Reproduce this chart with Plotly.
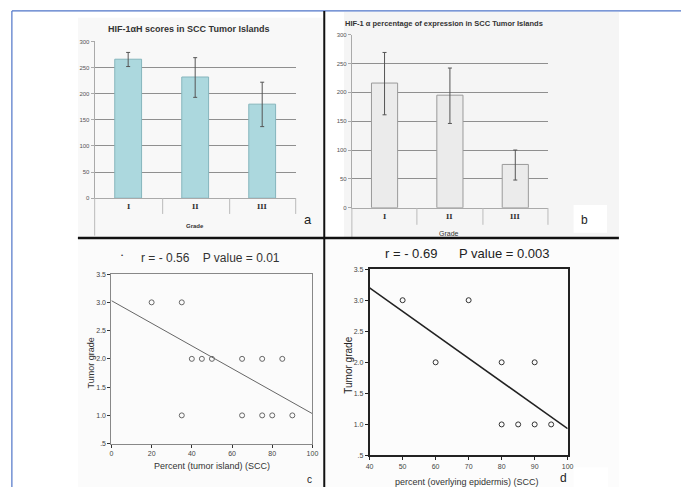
import plotly.graph_objects as go

W, H = 687, 490

# ---------------- data ----------------
grades = ["I", "II", "III"]
a_scores = [266, 232, 180]
a_err_up = [13, 37, 42]
a_err_dn = [14, 39, 43]

b_pct = [216, 195, 75]
b_err_up = [53, 47, 25]
b_err_dn = [55, 49, 27]

bar_ticks = [0, 50, 100, 150, 200, 250, 300]

c_x = [20, 35, 40, 45, 50, 65, 75, 85, 35, 65, 75, 80, 90]
c_y = [3, 3, 2, 2, 2, 2, 2, 2, 1, 1, 1, 1, 1]
c_fit_x = [0, 100]
c_fit_y = [3.03, 1.03]

d_x = [50, 70, 60, 80, 90, 80, 85, 90, 95]
d_y = [3, 3, 2, 2, 2, 1, 1, 1, 1]
d_fit_x = [40, 100]
d_fit_y = [3.2, 0.93]

grade_ticks = [0.5, 1.0, 1.5, 2.0, 2.5, 3.0, 3.5]
grade_ticktext = [".5", "1.0", "1.5", "2.0", "2.5", "3.0", "3.5"]
c_xticks = [0, 20, 40, 60, 80, 100]
d_xticks = [40, 50, 60, 70, 80, 90, 100]


def px(x):
    return x / W


def py(y):
    return (H - y) / H


FONT = "Liberation Sans, Arial, sans-serif"
NARROW = "Liberation Sans Narrow, Liberation Sans, Arial, sans-serif"

fig = go.Figure()

# Panel a bars
fig.add_trace(go.Bar(
    x=[0, 1, 2], y=a_scores, width=0.4,
    marker=dict(color="#acd8de", line=dict(color="#86b6bd", width=1)),
    error_y=dict(type="data", array=a_err_up, arrayminus=a_err_dn,
                 color="#555", thickness=1, width=2),
    xaxis="x", yaxis="y", showlegend=False))

# Panel b bars
fig.add_trace(go.Bar(
    x=[0, 1, 2], y=b_pct, width=0.4,
    marker=dict(color="#ebebeb", line=dict(color="#9a9a9a", width=1)),
    error_y=dict(type="data", array=b_err_up, arrayminus=b_err_dn,
                 color="#555", thickness=1, width=2),
    xaxis="x2", yaxis="y2", showlegend=False))

# Panel c scatter
fig.add_trace(go.Scatter(
    x=c_x, y=c_y, mode="markers",
    marker=dict(symbol="circle-open", size=5, color="#666", line=dict(width=1)),
    xaxis="x3", yaxis="y3", showlegend=False))
fig.add_trace(go.Scatter(
    x=c_fit_x, y=c_fit_y, mode="lines", line=dict(color="#666", width=1),
    xaxis="x3", yaxis="y3", showlegend=False))

# Panel d scatter
fig.add_trace(go.Scatter(
    x=d_x, y=d_y, mode="markers",
    marker=dict(symbol="circle-open", size=5, color="#333", line=dict(width=1)),
    xaxis="x4", yaxis="y4", showlegend=False))
fig.add_trace(go.Scatter(
    x=d_fit_x, y=d_fit_y, mode="lines", line=dict(color="#222", width=1.5),
    xaxis="x4", yaxis="y4", showlegend=False))

small_tick = dict(family=NARROW, size=6, color="#555")
tick_font = dict(family=NARROW, size=7, color="#444")

bar_x = dict(range=[-0.5, 2.5], showticklabels=False, showgrid=False,
             zeroline=False, showline=True, linecolor="#aaa", linewidth=1,
             fixedrange=True)
bar_y = dict(range=[0, 300], tickvals=bar_ticks, showgrid=True,
             gridcolor="#8f8f8f", gridwidth=1, zeroline=False,
             showline=True, linecolor="#aaa", tickfont=small_tick,
             ticks="outside", ticklen=3, tickcolor="#aaa")

fig.update_layout(
    width=W, height=H, margin=dict(l=0, r=0, t=0, b=0),
    paper_bgcolor="white", plot_bgcolor="rgba(0,0,0,0)",
    xaxis=dict(domain=[px(92), px(296)], anchor="y", **bar_x),
    yaxis=dict(domain=[py(197), py(38)], anchor="x", **bar_y),
    xaxis2=dict(domain=[px(353), px(552)], anchor="y2", **bar_x),
    yaxis2=dict(domain=[py(206.7), py(31)], anchor="x2", **bar_y),
    xaxis3=dict(domain=[px(109), px(313)], anchor="y3", range=[0, 100],
                tickvals=c_xticks, showgrid=False, zeroline=False,
                showline=True, mirror=True, linecolor="#888", linewidth=1,
                ticks="outside", ticklen=3, tickcolor="#333", tickfont=tick_font),
    yaxis3=dict(domain=[py(446), py(274)], anchor="x3", range=[0.5, 3.5],
                tickvals=grade_ticks, ticktext=grade_ticktext, showgrid=False,
                zeroline=False, showline=True, mirror=True, linecolor="#888",
                linewidth=1, ticks="outside", ticklen=3, tickcolor="#333",
                tickfont=tick_font),
    xaxis4=dict(domain=[px(371), px(572)], anchor="y4", range=[40, 100],
                tickvals=d_xticks, showgrid=False, zeroline=False,
                showline=True, mirror=True, linecolor="#222", linewidth=1.5,
                ticks="outside", ticklen=3, tickcolor="#222", tickfont=tick_font),
    yaxis4=dict(domain=[py(458), py(269)], anchor="x4", range=[0.5, 3.5],
                tickvals=grade_ticks, ticktext=grade_ticktext, showgrid=False,
                zeroline=False, showline=True, mirror=True, linecolor="#222",
                linewidth=1.5, ticks="outside", ticklen=3, tickcolor="#222",
                tickfont=tick_font),
)

shapes = []
# panel backgrounds
shapes.append(dict(type="rect", xref="paper", yref="paper", layer="below",
                   x0=px(75), x1=px(325), y0=py(237), y1=py(14),
                   fillcolor="#f8f8f8", line=dict(width=0)))
shapes.append(dict(type="rect", xref="paper", yref="paper", layer="below",
                   x0=px(345), x1=px(624), y0=py(237), y1=py(8),
                   fillcolor="#f5f5f5", line=dict(width=0)))
shapes.append(dict(type="rect", xref="paper", yref="paper", layer="below",
                   x0=px(75), x1=px(325), y0=py(490), y1=py(237),
                   fillcolor="#fbfbfb", line=dict(width=0)))
shapes.append(dict(type="rect", xref="paper", yref="paper", layer="below",
                   x0=px(325), x1=px(624), y0=py(490), y1=py(237),
                   fillcolor="#fcfcfc", line=dict(width=0)))
# white label boxes for b and d
shapes.append(dict(type="rect", xref="paper", yref="paper", layer="below",
                   x0=px(578), x1=px(612), y0=py(232), y1=py(204),
                   fillcolor="white", line=dict(width=0)))
shapes.append(dict(type="rect", xref="paper", yref="paper", layer="below",
                   x0=px(578), x1=px(613), y0=py(490), y1=py(470),
                   fillcolor="white", line=dict(width=0)))

# category axis extensions (a)
for xx, y0, y1 in [(92, 197, 235), (161, 197, 213), (229, 197, 213), (296, 197, 213)]:
    shapes.append(dict(type="line", xref="paper", yref="paper",
                       x0=px(xx), x1=px(xx), y0=py(y0), y1=py(y1),
                       line=dict(color="#bbb", width=1)))
# category axis extensions (b)
for xx, y0, y1 in [(353, 207, 237), (419, 207, 224), (486, 207, 224), (552, 207, 224)]:
    shapes.append(dict(type="line", xref="paper", yref="paper",
                       x0=px(xx), x1=px(xx), y0=py(y0), y1=py(y1),
                       line=dict(color="#bbb", width=1)))

# blue frame
shapes.append(dict(type="line", xref="paper", yref="paper",
                   x0=px(8), x1=1, y0=py(7), y1=py(7),
                   line=dict(color="#4f74c8", width=1.2)))
shapes.append(dict(type="line", xref="paper", yref="paper",
                   x0=px(8), x1=px(8), y0=py(7), y1=0,
                   line=dict(color="#4f74c8", width=1.2)))
# black dividers
shapes.append(dict(type="line", xref="paper", yref="paper",
                   x0=px(325), x1=px(325), y0=py(7), y1=0,
                   line=dict(color="#111", width=2)))
shapes.append(dict(type="line", xref="paper", yref="paper",
                   x0=px(75), x1=px(624), y0=py(237.5), y1=py(237.5),
                   line=dict(color="#111", width=2.5)))
fig.update_layout(shapes=shapes)

ann = []


def text(x, y, s, size, family=FONT, color="#222", bold=False, angle=0,
         xanchor="center"):
    if bold:
        s = "<b>" + s + "</b>"
    ann.append(dict(xref="paper", yref="paper", x=px(x), y=py(y), text=s,
                    showarrow=False, xanchor=xanchor, yanchor="middle",
                    textangle=angle, font=dict(family=family, size=size, color=color)))


# panel a texts
text(187, 25, "HIF-1αH scores in SCC Tumor Islands", 9, bold=True, color="#333")
for i, g in enumerate(grades):
    text(92 + (296 - 92) * (i + 0.5) / 3, 205, g, 7, family="DejaVu Serif", color="#333", bold=True)
text(194, 225, "Grade", 6, bold=True, family=NARROW, color="#333")
text(308, 219, "a", 13, color="#222")

# panel b texts
text(447, 20, "HIF-1 α percentage of expression in SCC Tumor Islands", 7.5,
     bold=True, family=NARROW, color="#333")
for i, g in enumerate(grades):
    text(353 + (552 - 353) * (i + 0.5) / 3, 216, g, 7, family="DejaVu Serif", color="#333", bold=True)
text(452, 233, "Grade", 7, family=NARROW, color="#333")
text(589, 219, "b", 12, color="#222")

# panel c texts
text(120, 255, "•", 6, color="#333")
text(210, 258, "r = - 0.56&nbsp;&nbsp;&nbsp;&nbsp;P value = 0.01", 12, color="#333")
text(211, 469, "Percent (tumor island) (SCC)", 9, family=NARROW, color="#333")
text(88, 364, "Tumor grade", 9, family=FONT, color="#333", angle=-90)
text(310, 482, "c", 10, color="#222")

# panel d texts
text(470, 253, "r = - 0.69&nbsp;&nbsp;&nbsp;&nbsp;&nbsp;&nbsp;P value = 0.003", 13, color="#222")
text(470, 485, "percent (overlying epidermis) (SCC)", 9, family=NARROW, color="#333")
text(350, 366, "Tumor grade", 10, family=FONT, color="#222", angle=-90)
text(568, 481, "d", 12, color="#222")

fig.update_layout(annotations=ann)

fig.write_html("out.html", config={"displayModeBar": False},
               post_script="document.body.style.margin='0';document.body.style.overflow='hidden';")
